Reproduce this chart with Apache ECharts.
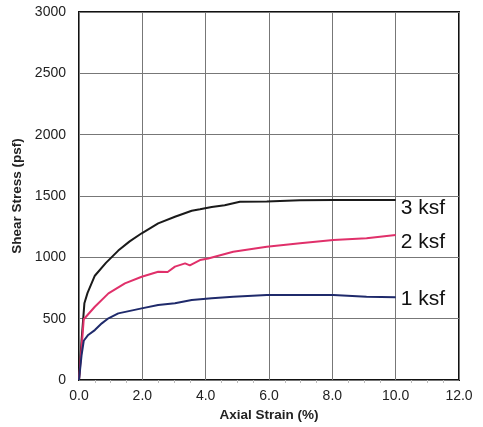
<!DOCTYPE html>
<html>
<head>
<meta charset="utf-8">
<script src="https://cdn.jsdelivr.net/npm/echarts@6/dist/echarts.min.js"></script>
<style>html,body{margin:0;padding:0;background:#fff;}#c{width:483px;height:427px;}</style>
</head>
<body>
<div id="c"></div>
<script>
var seriesNames = ['3 ksf', '2 ksf', '1 ksf'];
var strain3 = [0, 0.08, 0.17, 0.27, 0.5, 0.85, 1.24, 1.6, 1.98, 2.5, 3.03, 3.56, 3.82, 4.19, 4.6, 5.08, 5.93, 6.98, 8.03, 10.0];
var stress3 = [0, 320, 625, 710, 850, 955, 1055, 1130, 1196, 1277, 1331, 1380, 1392, 1410, 1425, 1453, 1455, 1465, 1467, 1467];
var strain2 = [0, 0.08, 0.15, 0.5, 0.93, 1.45, 1.98, 2.5, 2.8, 3.03, 3.35, 3.5, 3.82, 4.08, 4.87, 5.93, 6.98, 8.03, 9.08, 10.0];
var stress2 = [0, 260, 495, 597, 706, 788, 842, 883, 880, 924, 951, 935, 978, 991, 1046, 1087, 1114, 1141, 1155, 1182];
var strain1 = [0, 0.08, 0.15, 0.29, 0.5, 0.72, 0.93, 1.24, 1.98, 2.5, 3.03, 3.56, 4.19, 4.87, 5.93, 6.98, 8.03, 9.08, 10.0];
var stress1 = [0, 200, 320, 367, 407, 462, 503, 543, 584, 611, 625, 652, 666, 679, 693, 693, 693, 679, 674];
var xTicks = ['0.0', '2.0', '4.0', '6.0', '8.0', '10.0', '12.0'];
var yTicks = ['0', '500', '1000', '1500', '2000', '2500', '3000'];

function pairs(xs, ys) { return xs.map(function (x, i) { return [x, ys[i]]; }); }

var chart = echarts.init(document.getElementById('c'));
var font = 'Liberation Sans, Arial, sans-serif';
function mk(name, xs, ys, color, offY) {
  return {
    name: name, type: 'line', data: pairs(xs, ys), showSymbol: false, symbol: 'none',
    lineStyle: { color: color, width: 2 }, animation: false,
    endLabel: { show: true, formatter: name, color: '#111', fontSize: 21, fontFamily: font, offset: [-3, offY] }
  };
}
chart.setOption({
  animation: false,
  backgroundColor: '#fff',
  grid: { left: 79, right: 24, top: 12, bottom: 47, show: true, borderColor: '#111', borderWidth: 2, containLabel: false },
  xAxis: {
    type: 'value', min: 0, max: 12, interval: 2,
    name: 'Axial Strain (%)', nameLocation: 'middle', nameGap: 28,
    nameTextStyle: { fontFamily: font, fontWeight: 'bold', fontSize: 13.5, color: '#222' },
    axisLine: { show: false }, axisTick: { show: false },
    axisLabel: { fontFamily: font, fontSize: 14, color: '#222', margin: 9, formatter: function (v) { return xTicks[Math.round(v / 2)]; } },
    splitLine: { show: true, lineStyle: { color: '#777', width: 1 } },
    minorTick: { show: true, splitNumber: 4, length: 3, lineStyle: { color: '#bbb' } }
  },
  yAxis: {
    type: 'value', min: 0, max: 3000, interval: 500,
    name: 'Shear Stress (psf)', nameLocation: 'middle', nameGap: 52,
    nameTextStyle: { fontFamily: font, fontWeight: 'bold', fontSize: 13.5, color: '#222' },
    axisLine: { show: false }, axisTick: { show: false },
    axisLabel: { fontFamily: font, fontSize: 14, color: '#222', margin: 13, formatter: function (v) { return yTicks[Math.round(v / 500)]; } },
    splitLine: { show: true, lineStyle: { color: '#777', width: 1 } }
  },
  series: [
    mk(seriesNames[0], strain3, stress3, '#1a1a1a', 8),
    mk(seriesNames[1], strain2, stress2, '#e0306a', 7),
    mk(seriesNames[2], strain1, stress1, '#1f2a6b', 2)
  ]
});
</script>
</body>
</html>
